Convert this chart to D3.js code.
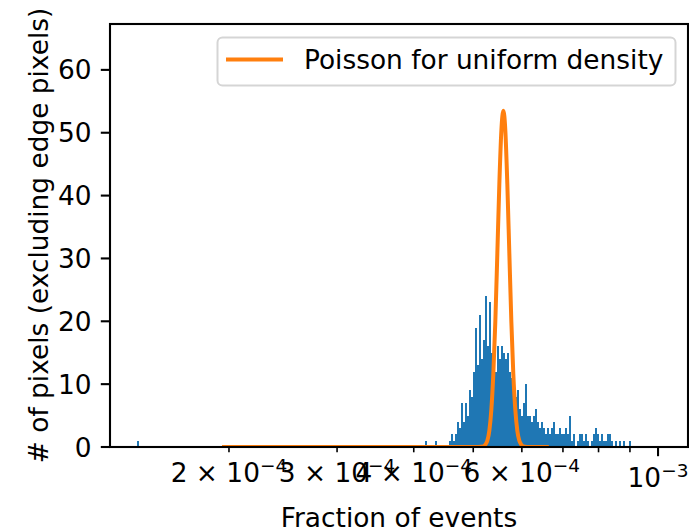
<!DOCTYPE html>
<meta charset="utf-8">
<style>
body { margin: 0; background: #fff; }
text { font-family: "DejaVu Sans", sans-serif; fill: #000; }
</style>
<body>
<script src="https://cdn.jsdelivr.net/npm/d3@7"></script>
<script>

// histogram counts (log-spaced bins starting at binStart, each binRatio wide)
var binStart = 4.56e-4,
    binRatio = 1.00753;
var counts = [1, 2, 1, 2, 4, 3, 7, 4, 7, 5,
              9, 8, 12, 19, 13, 21, 14, 17, 24, 16,
              23, 15, 17, 12, 16, 14, 16, 15, 14, 15,
              12, 11, 10, 8, 9, 6, 5, 7, 10, 5,
              5, 4, 5, 6, 4, 3, 4, 3, 2, 3,
              2, 3, 4, 2, 2, 3, 2, 2, 3, 2,
              5, 1, 2, 0, 1, 2, 2, 1, 2, 1,
              0, 1, 2, 3, 2, 1, 2, 1, 1, 2,
              2, 1, 0, 1, 0, 1, 0, 1, 0, 0, 1];
// isolated single bins away from the bulk
var strayX = [1.416e-4, 4.17e-4, 4.33e-4];
var strayCounts = [1, 1, 1];

// Poisson curve for uniform density
var poissonX = [1.963e-4, 5.0e-4, 5.193e-4, 5.232e-4, 5.271e-4, 5.311e-4, 5.351e-4, 5.391e-4,
                5.432e-4, 5.473e-4, 5.514e-4, 5.556e-4, 5.598e-4, 5.640e-4, 5.682e-4,
                5.725e-4, 5.768e-4, 5.811e-4, 5.855e-4, 5.899e-4, 5.944e-4, 5.988e-4,
                6.034e-4, 6.2e-4, 6.59e-4];
var poissonY = [0, 0, 0.1, 0.37, 1.0, 2.6, 5.9, 11.6,
                20.0, 30.8, 41.8, 50.3, 53.5, 50.3, 41.8,
                30.8, 20.0, 11.6, 5.9, 2.6, 1.0, 0.37,
                0.1, 0, 0];

var xTicksMinor = [2e-4, 3e-4, 4e-4, 5e-4, 6e-4, 7e-4, 8e-4, 9e-4],
    xLabelMinor = [[2e-4, "2", "4"], [3e-4, "3", "4"], [4e-4, "4", "4"], [6e-4, "6", "4"]],
    yTicks = [0, 10, 20, 30, 40, 50, 60];

var W = 689, H = 531,
    mL = 110, mR = 688, mT = 24, mB = 447,
    fs = 26.4;

var x = d3.scaleLog().domain([1.28e-4, 1.119e-3]).range([mL, mR]);
var y = d3.scaleLinear().domain([0, 67.3]).range([mB, mT]);

var svg = d3.select("body").append("svg")
    .attr("width", W)
    .attr("height", H);

svg.append("clipPath").attr("id", "plot")
  .append("rect")
    .attr("x", mL).attr("y", mT)
    .attr("width", mR - mL).attr("height", mB - mT);

var plot = svg.append("g").attr("clip-path", "url(#plot)");

// bins
var bins = counts.map(function(c, i) {
  var x0 = binStart * Math.pow(binRatio, i);
  return {x0: x0, x1: x0 * binRatio, n: c};
});
strayX.forEach(function(v, i) {
  bins.push({x0: v, x1: v * binRatio, n: strayCounts[i]});
});

plot.selectAll(".bar")
    .data(bins.filter(function(d) { return d.n > 0; }))
  .enter().append("rect")
    .attr("class", "bar")
    .attr("x", function(d) { return x(d.x0); })
    .attr("width", function(d) { return x(d.x1) - x(d.x0); })
    .attr("y", function(d) { return y(d.n); })
    .attr("height", function(d) { return y(0) - y(d.n); })
    .attr("fill", "#1f77b4")
    .attr("shape-rendering", "crispEdges");

var line = d3.line()
    .x(function(d) { return x(d[0]); })
    .y(function(d) { return y(d[1]); })
    .curve(d3.curveMonotoneX);

plot.append("path")
    .datum(poissonX.map(function(v, i) { return [v, poissonY[i]]; }))
    .attr("d", line)
    .attr("fill", "none")
    .attr("stroke", "#ff7f0e")
    .attr("stroke-width", 4)
    .attr("stroke-linejoin", "round")
    .attr("stroke-linecap", "square");

// frame
svg.append("rect")
    .attr("x", mL).attr("y", mT)
    .attr("width", mR - mL).attr("height", mB - mT)
    .attr("fill", "none")
    .attr("stroke", "#000")
    .attr("stroke-width", 2.1);

// y axis
var yAxis = svg.append("g");
yTicks.forEach(function(t) {
  yAxis.append("line")
      .attr("x1", mL - 9.2).attr("x2", mL)
      .attr("y1", y(t)).attr("y2", y(t))
      .attr("stroke", "#000").attr("stroke-width", 2.1);
  yAxis.append("text")
      .attr("x", mL - 18.5)
      .attr("y", y(t) + 9.6)
      .attr("text-anchor", "end")
      .style("font-size", fs + "px")
      .text(t);
});

// x axis ticks
var xAxis = svg.append("g");
xTicksMinor.forEach(function(t) {
  xAxis.append("line")
      .attr("x1", x(t)).attr("x2", x(t))
      .attr("y1", mB).attr("y2", mB + 5.3)
      .attr("stroke", "#000").attr("stroke-width", 1.6);
});
xAxis.append("line")
    .attr("x1", x(1e-3)).attr("x2", x(1e-3))
    .attr("y1", mB).attr("y2", mB + 9.2)
    .attr("stroke", "#000").attr("stroke-width", 2.1);

xLabelMinor.forEach(function(d) {
  var t = xAxis.append("text")
      .attr("x", x(d[0]))
      .attr("y", 482)
      .attr("text-anchor", "middle")
      .style("font-size", fs + "px");
  t.append("tspan").text(d[1] + " \u00d7 10");
  t.append("tspan").attr("dy", -10).style("font-size", "18.5px").text("\u2212" + d[2]);
});
var major = xAxis.append("text")
    .attr("x", x(1e-3))
    .attr("y", 487)
    .attr("text-anchor", "middle")
    .style("font-size", fs + "px");
major.append("tspan").text("10");
major.append("tspan").attr("dy", -10).style("font-size", "18.5px").text("\u22123");

// axis titles
svg.append("text")
    .attr("x", (mL + mR) / 2)
    .attr("y", 527)
    .attr("text-anchor", "middle")
    .style("font-size", fs + "px")
    .text("Fraction of events");

svg.append("text")
    .attr("transform", "translate(48," + ((mT + mB) / 2) + ") rotate(-90)")
    .attr("text-anchor", "middle")
    .style("font-size", fs + "px")
    .text("# of pixels (excluding edge pixels)");

// legend
var legend = svg.append("g");
legend.append("rect")
    .attr("x", 217.5).attr("y", 37.5)
    .attr("width", 458).attr("height", 48)
    .attr("rx", 5).attr("ry", 5)
    .attr("fill", "#fff").attr("fill-opacity", 0.8)
    .attr("stroke", "#d5d5d5").attr("stroke-width", 2);
legend.append("line")
    .attr("x1", 226).attr("x2", 283)
    .attr("y1", 59.5).attr("y2", 59.5)
    .attr("stroke", "#ff7f0e").attr("stroke-width", 4);
legend.append("text")
    .attr("x", 304)
    .attr("y", 69)
    .style("font-size", fs + "px")
    .text("Poisson for uniform density");

</script>
